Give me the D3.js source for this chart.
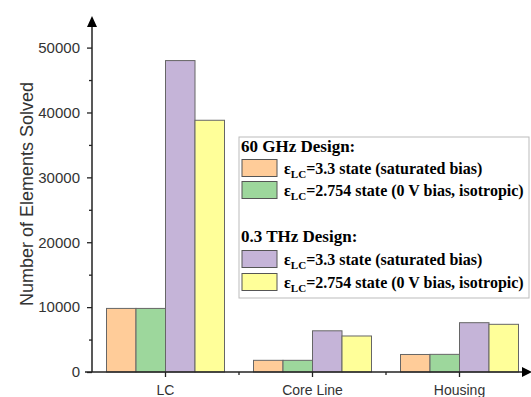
<!DOCTYPE html>
<html><head><meta charset="utf-8">
<script src="https://cdn.jsdelivr.net/npm/d3@7"></script>
<style>body{margin:0;background:#fff}svg{display:block}</style>
</head><body>
<svg id="c" width="531" height="397"></svg>
<script>
const categories = ["LC", "Core Line", "Housing"];
const seriesKeys = ["ghz60_33", "ghz60_2754", "thz03_33", "thz03_2754"];
const ghz60_33 = [9800, 1800, 2700];
const ghz60_2754 = [9800, 1800, 2720];
const thz03_33 = [48000, 6350, 7600];
const thz03_2754 = [38800, 5550, 7350];
const yTicks = [0, 10000, 20000, 30000, 40000, 50000];
const yMinorTicks = [5000, 15000, 25000, 35000, 45000];
const colors = ["#FFCC99", "#9DD79C", "#C5B4D8", "#FFFF99"];
const legendGroups = [
  {title: "60 GHz Design:", items: [[0, "=3.3 state (saturated bias)"], [1, "=2.754 state (0 V bias, isotropic)"]]},
  {title: "0.3 THz Design:", items: [[2, "=3.3 state (saturated bias)"], [3, "=2.754 state (0 V bias, isotropic)"]]}
];
const series = [ghz60_33, ghz60_2754, thz03_33, thz03_2754];

const svg = d3.select("#c");
const x0 = 92, x1 = 533, yBase = 372, yTop = 47.6;
const x = d3.scaleBand().domain(categories).range([x0, x1]).padding(0);
const xi = d3.scaleBand().domain(seriesKeys).range([0, 118]).padding(0);
const y = d3.scaleLinear().domain([0, 50000]).range([yBase, yTop]);
const off = (x.bandwidth() - 118) / 2;
const axisColor = "#222";
const sans = "Liberation Sans, Arial, sans-serif";

// bars
categories.forEach((c, ci) => {
  seriesKeys.forEach((k, si) => {
    svg.append("rect")
      .attr("x", x(c) + off + xi(k))
      .attr("y", y(series[si][ci]))
      .attr("width", xi.bandwidth())
      .attr("height", yBase - y(series[si][ci]))
      .attr("fill", colors[si])
      .attr("stroke", "#666").attr("stroke-width", 1);
  });
});

// y axis
const yAxis = d3.axisLeft(y).tickValues(yTicks).tickSize(5).tickPadding(7).tickFormat(d3.format("d"));
const gy = svg.append("g").attr("transform", `translate(${x0},0)`).call(yAxis);
gy.select(".domain").remove();
gy.selectAll("line").attr("stroke", axisColor).attr("stroke-width", 1.3);
gy.selectAll("text").attr("font-family", sans).attr("font-size", 15).attr("fill", "#333");
const gym = svg.append("g").attr("transform", `translate(${x0},0)`)
  .call(d3.axisLeft(y).tickValues(yMinorTicks).tickSize(3).tickFormat(""));
gym.select(".domain").remove();
gym.selectAll("line").attr("stroke", axisColor).attr("stroke-width", 1.3);
svg.append("line").attr("x1", x0).attr("x2", x0).attr("y1", yBase).attr("y2", 24)
  .attr("stroke", axisColor).attr("stroke-width", 1.5);
svg.append("path").attr("d", `M${x0-5},27 L${x0},16 L${x0+5},27 Z`).attr("fill", "#000");

// x axis
const xAxis = d3.axisBottom(x).tickSize(5).tickPadding(8);
const gx = svg.append("g").attr("transform", `translate(0,${yBase})`).call(xAxis);
gx.select(".domain").remove();
gx.selectAll("line").attr("stroke", axisColor).attr("stroke-width", 1.3);
gx.selectAll("text").attr("font-family", sans).attr("font-size", 14).attr("fill", "#333");
const bounds = [categories[1], categories[2]].map(c => x(c));
svg.selectAll(".minx").data(bounds).enter().append("line")
  .attr("x1", d => d).attr("x2", d => d).attr("y1", yBase).attr("y2", yBase + 3)
  .attr("stroke", axisColor).attr("stroke-width", 1.3);
svg.append("line").attr("x1", x0 - 7).attr("x2", 524).attr("y1", yBase).attr("y2", yBase)
  .attr("stroke", axisColor).attr("stroke-width", 1.5);
svg.append("path").attr("d", `M522,${yBase-5} L532,${yBase} L522,${yBase+5} Z`).attr("fill", "#000");

// y label
svg.append("text").attr("transform", `translate(33,194) rotate(-90)`)
  .attr("text-anchor", "middle").attr("font-family", sans)
  .attr("font-size", 18).attr("fill", "#333").text("Number of Elements Solved");

// legend
const lg = svg.append("g");
lg.append("rect").attr("x", 239).attr("y", 137).attr("width", 290).attr("height", 161)
  .attr("fill", "#fff").attr("stroke", "#bbb").attr("stroke-width", 1);
const serif = "Liberation Serif, Times New Roman, serif";
const headerY = [152, 242];
const rowY = [[168, 190], [259, 282]];
legendGroups.forEach((g, gi) => {
  lg.append("text").attr("x", 241).attr("y", headerY[gi]).attr("font-family", serif)
    .attr("font-weight", "bold").attr("font-size", 17).attr("fill", "#000").text(g.title);
  g.items.forEach((it, ii) => {
    const cy = rowY[gi][ii];
    lg.append("rect").attr("x", 242).attr("y", cy - 8.5).attr("width", 35).attr("height", 17)
      .attr("fill", colors[it[0]]).attr("stroke", "#555").attr("stroke-width", 1);
    const t = lg.append("text").attr("x", 284).attr("y", cy + 5.5).attr("font-family", serif)
      .attr("font-weight", "bold").attr("font-size", 16).attr("fill", "#000");
    t.append("tspan").text("ε");
    t.append("tspan").attr("dy", 4).attr("font-size", 11).text("LC");
    t.append("tspan").attr("dy", -4).text(it[1]);
  });
});
</script>
</body></html>
